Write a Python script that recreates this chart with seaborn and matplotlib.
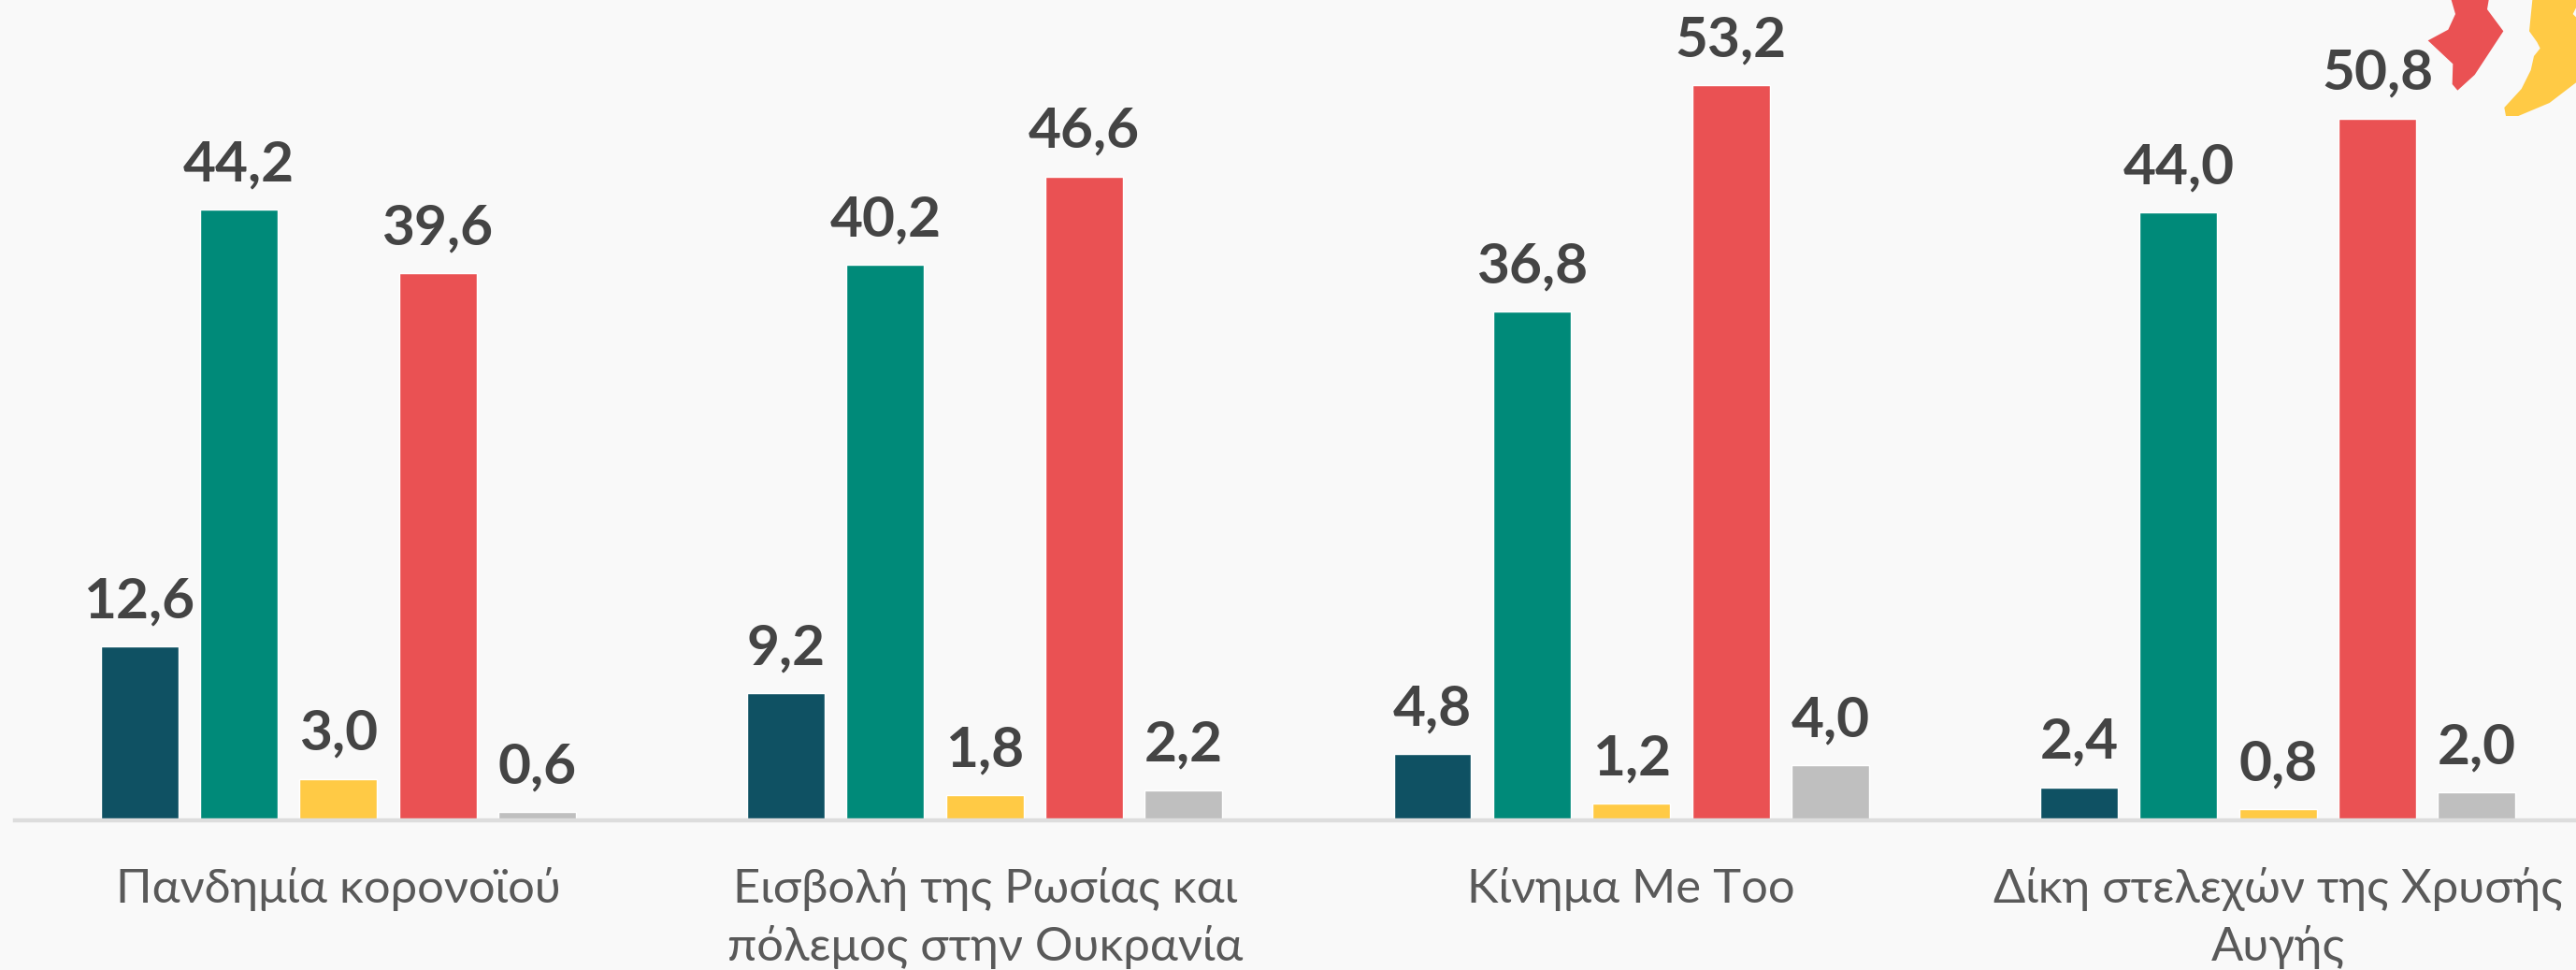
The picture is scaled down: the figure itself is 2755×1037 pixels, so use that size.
import numpy as np
import pandas as pd
import seaborn as sns
import matplotlib.pyplot as plt
from matplotlib.patches import Polygon

# Values
categories = ['Πανδημία κορονοϊού',
              'Εισβολή της Ρωσίας και\nπόλεμος στην Ουκρανία',
              'Κίνημα Me Too',
              'Δίκη στελεχών της Χρυσής\nΑυγής']
answer_1 = [12.6, 9.2, 4.8, 2.4]
answer_2 = [44.2, 40.2, 36.8, 44.0]
answer_3 = [3.0, 1.8, 1.2, 0.8]
answer_4 = [39.6, 46.6, 53.2, 50.8]
answer_5 = [0.6, 2.2, 4.0, 2.0]
colors = ['#0F5163', '#008A79', '#FFCA45', '#EA5153', '#BFBFBF']

W, H = 2755, 1037
BASE = 877
bg = '#F9F9F9'

sns.set_theme(style='white')
plt.rcParams['font.family'] = ['Lato', 'Open Sans', 'DejaVu Sans']

df = pd.DataFrame({'category': categories, 'a1': answer_1, 'a2': answer_2,
                   'a3': answer_3, 'a4': answer_4, 'a5': answer_5})
long_df = df.melt(id_vars='category', var_name='answer', value_name='value')

fig = plt.figure(figsize=(W / 100, H / 100), dpi=100, facecolor=bg)
ax = fig.add_axes([16 / W, (H - BASE) / H, 1 - 16 / W, BASE / H])
ax.set_facecolor(bg)

sns.barplot(data=long_df, x='category', y='value', hue='answer',
            palette=colors, width=0.769, gap=0.22, legend=False, ax=ax,
            errorbar=None, saturation=1)

ax.set_xlim(-0.5, (W - 361.7) / 691.5)
ax.set_ylim(0, BASE / 14.77)
ax.set_xlabel('')
ax.set_ylabel('')
ax.set_yticks([])
sns.despine(ax=ax, left=True)
ax.spines['bottom'].set_color('#DDDDDD')
ax.spines['bottom'].set_linewidth(3.2)
ax.tick_params(axis='x', length=0, pad=36)
ax.set_xticks(range(len(categories)))
ax.set_xticklabels(categories, fontsize=36.5, color='#595959', linespacing=1.4)

for c in ax.containers:
    labels = [f'{b.get_height():.1f}'.replace('.', ',') for b in c]
    ax.bar_label(c, labels=labels, padding=15, fontsize=43.5, fontweight='bold',
                 color='#444444')

# Decorative silhouettes in the top right corner
red_shape = [(365, 0), (378, 45), (355, 95), (290, 130), (370, 205), (368, 270),
             (385, 290), (440, 240), (532, 100), (480, 30), (485, 0)]
yellow_shape = [(625, 0), (615, 100), (640, 135), (650, 155), (630, 180),
                (620, 225), (590, 285), (535, 345), (540, 372), (580, 372),
                (680, 330), (765, 265), (765, 55), (755, 45), (765, 25), (765, 0)]
for shape, col in [(red_shape, colors[3]), (yellow_shape, colors[2])]:
    pts = [((2500 + x / 3) / W, 1 - (y / 3) / H) for x, y in shape]
    fig.add_artist(Polygon(pts, closed=True, transform=fig.transFigure,
                           facecolor=col, edgecolor='none'))

fig.savefig('out.png', dpi=100, facecolor=bg)
